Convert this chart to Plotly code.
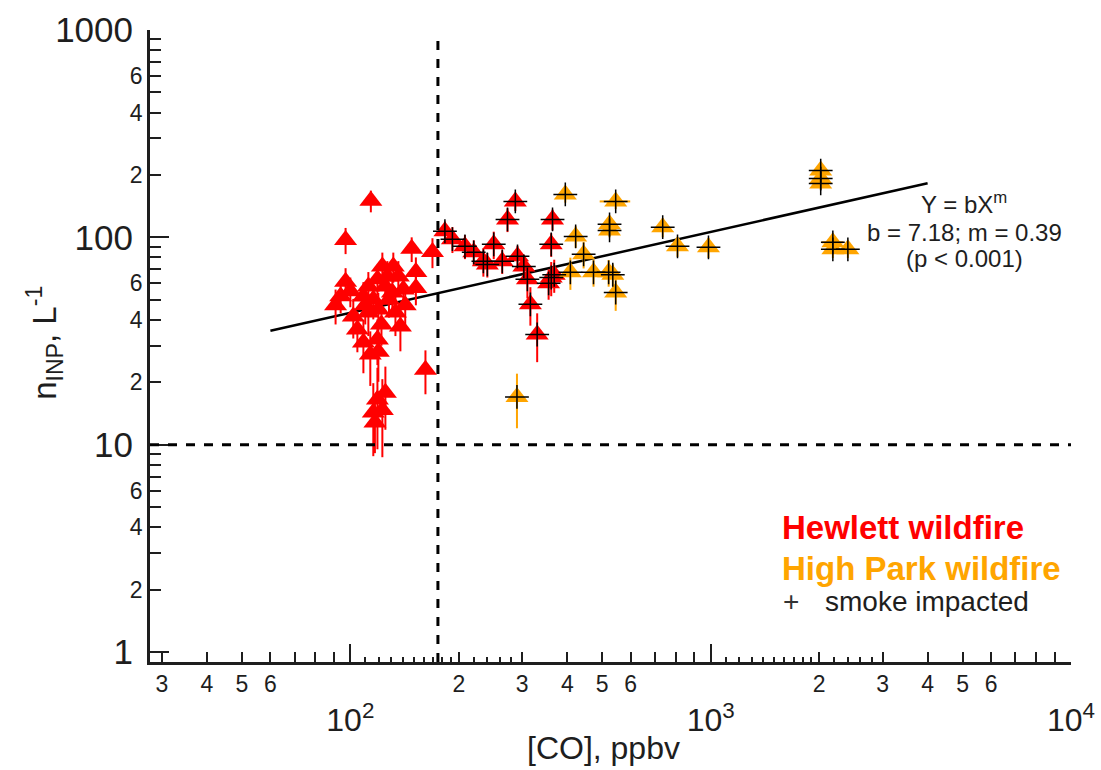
import numpy as np
import plotly.graph_objects as go

# ---- Hewlett wildfire samples -------------------------------------------
hewlett_co = [114, 97, 148, 169, 152, 152, 97, 94, 91,
              122.7, 131.6, 112.2, 118.9, 126.7, 135.9, 108.7, 115.8, 130.8, 140.3,
              101.9, 112.2, 119.6, 133.4, 137.7, 104.6, 108.7, 118.9, 113.6, 119.6,
              125, 128, 110, 122, 142, 100,
              161.6, 118.9, 125.1, 115.8, 122.7, 117,
              183, 192, 208, 220, 234, 250, 240, 264, 291, 303, 287, 273,
              310, 316, 330, 364, 361, 361, 355, 368]
hewlett_inp = [150, 97, 88, 85, 68, 57, 61, 52, 47,
               72.4, 72.4, 58.0, 62.7, 64.8, 64.8, 51.8, 50.2, 54.2, 56.1,
               41.5, 43.4, 44.9, 43.4, 37.2, 35.9, 31.1, 32.2, 27.2, 28.1,
               58, 50, 47, 38, 47, 55,
               23, 16.5, 17.8, 14.3, 14.7, 12.8,
               107, 98, 90.5, 84.7, 76.6, 92.5, 74, 76.6, 81, 72.4, 149, 122,
               62.7, 47.5, 34, 122, 92.5, 64, 60, 66]
hewlett_err = [18, 14, 12, 14, 12, 10, 10, 9, 9,
               12, 12, 10, 10, 12, 12, 9, 10, 10, 10,
               9, 10, 9, 10, 9, 8, 9, 8, 8, 8,
               10, 9, 9, 8, 9, 9,
               5.5, 7, 6, 5.5, 6, 3.7,
               12, 14, 12, 12, 12, 14, 10, 10, 10, 10, 15, 16,
               12, 10, 9, 14, 12, 12, 10, 12]
hewlett_smoke = [False] * 41 + [True] * 20

# ---- High Park wildfire samples (all smoke impacted) --------------------
highpark_co = [395, 422, 444, 408, 473, 545, 524, 524, 521, 535, 545, 290,
               736, 809, 986, 2020, 2020, 2020, 2183, 2183, 2403]
highpark_inp = [161, 101, 82.8, 67.8, 67.8, 149, 115.6, 108, 67.8, 66, 54.2, 17,
                112, 90.5, 89.5, 210, 192, 182, 94.6, 87.5, 87.5]
highpark_err = [14, 12, 12, 12, 10, 12, 10, 8, 10, 8, 10, 5,
                12, 10, 10, 18, 15, 12, 10, 8, 8]
highpark_co_err = [0, 0, 0, 0, 0, 53, 0, 0, 0, 0, 0, 0,
                   0, 0, 0, 0, 0, 0, 150, 0, 0]

# ---- power-law fit and reference levels ---------------------------------
FIT_B = 7.18
FIT_M = 0.39
FIT_CO_RANGE = [60, 4000]
CO_THRESHOLD = 175
BGD_INP = 10

X_RANGE_LOG = [1.444, 4.0]
Y_RANGE_LOG = [np.log10(0.895), 3.0]

RED = "#FF0000"
ORANGE = "#FFA500"
INK = "#1e1e1e"
FONT = "Arial, 'Liberation Sans', Helvetica, sans-serif"

fig = go.Figure()

fit_x = np.logspace(np.log10(FIT_CO_RANGE[0]), np.log10(FIT_CO_RANGE[1]), 60)
fit_y = FIT_B * fit_x ** FIT_M
fig.add_trace(go.Scatter(x=fit_x, y=fit_y, mode="lines",
                         line=dict(color="black", width=2.5), hoverinfo="skip"))

fig.add_trace(go.Scatter(
    x=hewlett_co, y=hewlett_inp, mode="markers", name="Hewlett wildfire",
    marker=dict(symbol="triangle-up", size=20, color=RED, line=dict(width=0)),
    error_y=dict(type="data", array=hewlett_err, color=RED, thickness=2, width=0),
))
fig.add_trace(go.Scatter(
    x=highpark_co, y=highpark_inp, mode="markers", name="High Park wildfire",
    marker=dict(symbol="triangle-up", size=20, color=ORANGE, line=dict(width=0)),
    error_y=dict(type="data", array=highpark_err, color=ORANGE, thickness=2, width=0),
    error_x=dict(type="data", array=highpark_co_err, color=ORANGE, thickness=2, width=0),
))

# black crosses flag the smoke impacted samples
smoke_x = [c for c, s in zip(hewlett_co, hewlett_smoke) if s] + highpark_co
smoke_y = [v for v, s in zip(hewlett_inp, hewlett_smoke) if s] + highpark_inp
fig.add_trace(go.Scatter(
    x=smoke_x, y=smoke_y, mode="markers", name="smoke impacted",
    marker=dict(symbol="cross-thin", size=17, line=dict(color="black", width=1.5)),
))

# empty trace that carries the decade-tick overlay axes
fig.add_trace(go.Scatter(x=[], y=[], xaxis="x2", yaxis="y2", showlegend=False))

# ---- axes -----------------------------------------------------------------
x_major = [30, 40, 50, 60, 70, 80, 90,
           200, 300, 400, 500, 600, 700, 800, 900,
           2000, 3000, 4000, 5000, 6000, 7000, 8000, 9000]
x_major_text = ["3", "4", "5", "6", "", "", "",
                "2", "3", "4", "5", "6", "", "", "",
                "2", "3", "4", "5", "6", "", "", ""]
x_minor = ([110, 120, 130, 140, 150, 160, 170, 180, 190, 220, 240, 260, 280] +
           [1100, 1200, 1300, 1400, 1500, 1600, 1700, 1800, 1900, 2200, 2400, 2600, 2800])
x_decades = [100, 1000, 10000]
x_decade_text = ["10<sup>2</sup>", "10<sup>3</sup>", "10<sup>4</sup>"]

y_major = [2, 3, 4, 5, 6, 7, 8, 9, 20, 30, 40, 50, 60, 70, 80, 90,
           200, 300, 400, 500, 600, 700, 800, 900]
y_major_text = ["2", "", "4", "", "6", "", "", ""] * 3
y_decades = [1, 10, 100, 1000]
y_decade_text = ["1", "10", "100", "1000"]

fig.update_layout(
    width=1101, height=770,
    margin=dict(l=150, r=30, t=30, b=108),
    plot_bgcolor="white", paper_bgcolor="white",
    showlegend=False,
    font=dict(family=FONT, color=INK),
    xaxis=dict(
        type="log", range=X_RANGE_LOG, showgrid=False, zeroline=False,
        showline=True, linecolor=INK, linewidth=2.5, mirror=False, automargin=False,
        ticks="inside", ticklen=10, tickwidth=2, tickcolor=INK,
        tickmode="array", tickvals=x_major, ticktext=x_major_text,
        tickfont=dict(size=23, family=FONT, color=INK),
        minor=dict(tickmode="array", tickvals=x_minor, ticks="inside",
                   ticklen=5, tickwidth=1.5, tickcolor=INK, showgrid=False),
    ),
    xaxis2=dict(
        type="log", range=X_RANGE_LOG, overlaying="x", anchor="y", side="bottom",
        showgrid=False, zeroline=False, showline=False, automargin=False,
        ticks="inside", ticklen=18, tickwidth=2, tickcolor=INK,
        tickmode="array", tickvals=x_decades, ticktext=x_decade_text,
        tickfont=dict(size=32, family=FONT, color=INK), ticklabelstandoff=36,
    ),
    yaxis=dict(
        type="log", range=Y_RANGE_LOG, showgrid=False, zeroline=False,
        showline=True, linecolor=INK, linewidth=2.5, automargin=False,
        ticks="inside", ticklen=11, tickwidth=2, tickcolor=INK,
        tickmode="array", tickvals=y_major, ticktext=y_major_text,
        tickfont=dict(size=23, family=FONT, color=INK),
    ),
    yaxis2=dict(
        type="log", range=Y_RANGE_LOG, overlaying="y", anchor="x", side="left",
        showgrid=False, zeroline=False, showline=False, automargin=False,
        ticks="inside", ticklen=19, tickwidth=2, tickcolor=INK,
        tickmode="array", tickvals=y_decades, ticktext=y_decade_text,
        tickfont=dict(size=35, family=FONT, color=INK), ticklabelstandoff=16,
    ),
)

# ---- reference lines ------------------------------------------------------
fig.add_shape(type="line", xref="x", yref="paper", x0=CO_THRESHOLD, x1=CO_THRESHOLD,
              y0=0, y1=0.99, line=dict(color="black", width=3, dash="dash"))
fig.add_shape(type="line", xref="paper", yref="y", x0=0, x1=1, y0=BGD_INP, y1=BGD_INP,
              line=dict(color="black", width=3, dash="dash"))

# ---- text -------------------------------------------------------------------
def note(text, x, y, size, xref="paper", yref="paper", xanchor="center",
         color=INK, **kw):
    fig.add_annotation(text=text, x=x, y=y, xref=xref, yref=yref, showarrow=False,
                       xanchor=xanchor, yanchor="middle",
                       font=dict(size=size, family=FONT, color=color), **kw)

note("threshold [CO]", CO_THRESHOLD, 0.9715, 21, xref="x", xanchor="left", xshift=7)
note("Litterature Bgd n<sub>INP</sub>", 1.0, BGD_INP, 20, yref="y",
     xanchor="right", xshift=12, yshift=26)

note("Y = bX<sup>m</sup>", 0.884, 0.726, 24)
note(f"b = {FIT_B}; m = {FIT_M}", 0.884, 0.680, 24)
note("(p < 0.001)", 0.884, 0.639, 24)

note("<b>Hewlett wildfire</b>", 0.684, 0.2136, 33, xanchor="left", color=RED)
note("<b>High Park wildfire</b>", 0.684, 0.1487, 33, xanchor="left", color=ORANGE)
note("+", 0.696, 0.095, 28, color="#333333")
note("smoke impacted", 0.731, 0.095, 28, xanchor="left")

# x title sits at the bottom edge, just left of the 10^3 label
fig.add_annotation(text="[CO], ppbv", x=0.492, y=0, xref="paper", yref="paper",
                   yanchor="bottom", yshift=-106, showarrow=False,
                   font=dict(size=32, family=FONT, color=INK))
note("n<sub>INP</sub>, L<sup>-1</sup>", -0.114, 0.505, 33, textangle=-90)

fig.write_html("out.html")
